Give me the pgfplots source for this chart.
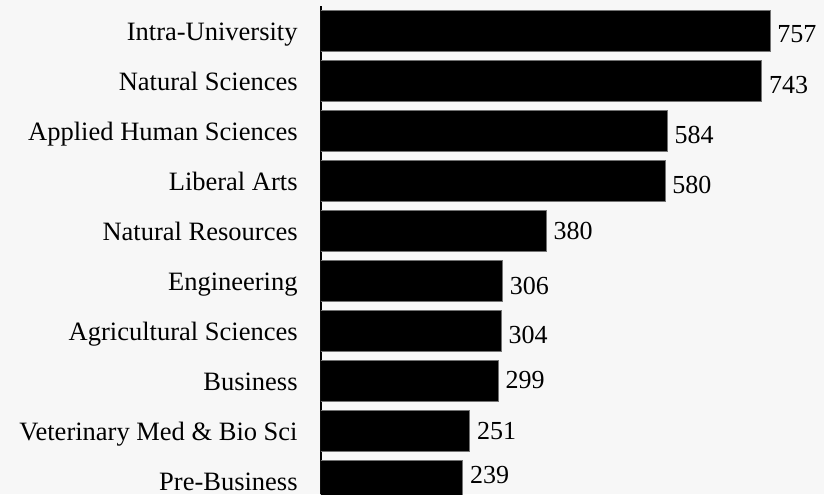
\documentclass[border=0pt]{standalone}
\usepackage{fontspec}
\setmainfont{Liberation Serif}
\usepackage{pgfplots}
\usepackage{pgfplotstable}
\pgfplotsset{compat=1.18}
\usetikzlibrary{backgrounds}
\definecolor{bgc}{RGB}{247,247,247}
\pgfplotstableread{
val pos off
757 0 5.85
743 1 6.1
584 2 6.4
580 3 6.0
380 4 4.4
306 5 6.65
304 6 6.3
299 7 3.8
251 8 4.15
239 9 1.1
}\datatable
\begin{document}
\begin{tikzpicture}
\begin{axis}[
  name=ax,
  scale only axis,
  width=251.5pt, height=244pt,
  xbar,
  bar width=0.82,
  xmin=0, xmax=848,
  ymin=-0.5, ymax=9.26,
  y dir=reverse,
  axis x line=none,
  axis y line*=left,
  axis line style={black, line width=0.6pt},
  ytick={0,1,2,3,4,5,6,7,8,9},
  yticklabels={Intra-University,Natural Sciences,Applied Human Sciences,Liberal Arts,Natural Resources,Engineering,Agricultural Sciences,Business,Veterinary Med \& Bio Sci,Pre-Business},
  major tick length=0pt,
  yticklabel style={font=\fontsize{13.25}{15}\selectfont, inner sep=0pt, anchor=base east, xshift=-11.5pt, yshift=-4.9pt},
  nodes near coords,
  /pgf/number format/assume math mode=true,
  visualization depends on={\thisrow{off} \as \offv},
  nodes near coords style={anchor=base west, inner sep=0pt, xshift=3.4pt, yshift={-1pt*\offv}, font=\fontsize{13}{15}\selectfont, text=black},
]
\addplot[fill=black, draw=black!55, line width=0.5pt] table[x=val, y=pos] {\datatable};
\end{axis}
\begin{pgfonlayer}{background}
\fill[bgc] (ax.south west) ++(-160.5pt,0) rectangle ++(412pt,247pt);
\end{pgfonlayer}
\pgfresetboundingbox
\path[use as bounding box] (ax.south west) ++(-160.5pt,0) rectangle ++(412pt,247pt);
\end{tikzpicture}
\end{document}
